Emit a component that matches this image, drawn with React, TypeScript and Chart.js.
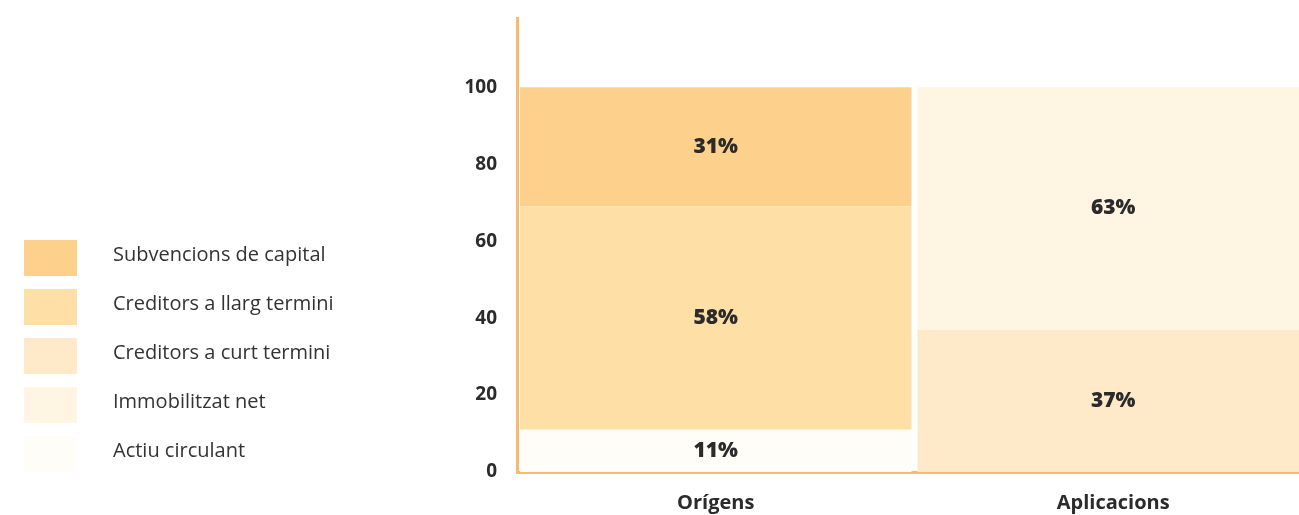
import React, { useEffect, useRef } from "react";
import { Chart, registerables } from "chart.js";

Chart.register(...registerables);

const categories = ["Orígens", "Aplicacions"];
const yTicks = [0, 20, 40, 60, 80, 100];

// Series values (%), per category [Orígens, Aplicacions]
const actiuCirculant = [11, 0];
const creditorsCurt = [0, 37];
const creditorsLlarg = [58, 0];
const immobilitzatNet = [0, 63];
const subvencionsCapital = [31, 0];

const seriesNames = {
  subvencions: "Subvencions de capital",
  llarg: "Creditors a llarg termini",
  curt: "Creditors a curt termini",
  immob: "Immobilitzat net",
  actiu: "Actiu circulant",
};

const colors = {
  subvencions: "#FDD18C",
  llarg: "#FEDFA6",
  curt: "#FEEAC8",
  immob: "#FFF5E2",
  actiu: "#FFFDF7",
};

const legendOrder = ["subvencions", "llarg", "curt", "immob", "actiu"] as const;

const AXIS_COLOR = "#F8BA6C";
const TEXT_COLOR = "#2b2b2b";
const FONT = "'Open Sans', 'Noto Sans', sans-serif";

const labelsPlugin = {
  id: "segmentLabels",
  afterDatasetsDraw(chart: any) {
    const ctx = chart.ctx;
    ctx.save();
    ctx.font = `800 21px ${FONT}`;
    ctx.fillStyle = TEXT_COLOR;
    ctx.textAlign = "center";
    ctx.textBaseline = "middle";
    chart.data.datasets.forEach((ds: any, di: number) => {
      const meta = chart.getDatasetMeta(di);
      meta.data.forEach((el: any, i: number) => {
        const v = ds.data[i];
        if (!v) return;
        const p = el.getProps(["x", "y", "base"], true);
        ctx.fillText(`${v}%`, p.x, (p.y + p.base) / 2);
      });
    });
    ctx.restore();
  },
};

export default function App() {
  const canvasRef = useRef<HTMLCanvasElement | null>(null);

  useEffect(() => {
    document.body.style.margin = "0";
    const canvas = canvasRef.current;
    if (!canvas) return;
    const common = { barPercentage: 0.985, categoryPercentage: 1, borderWidth: 0 };
    const chart = new Chart(canvas, {
      type: "bar",
      data: {
        labels: categories,
        datasets: [
          { label: seriesNames.actiu, data: actiuCirculant, backgroundColor: colors.actiu, ...common },
          { label: seriesNames.curt, data: creditorsCurt, backgroundColor: colors.curt, ...common },
          { label: seriesNames.llarg, data: creditorsLlarg, backgroundColor: colors.llarg, ...common },
          { label: seriesNames.immob, data: immobilitzatNet, backgroundColor: colors.immob, ...common },
          { label: seriesNames.subvencions, data: subvencionsCapital, backgroundColor: colors.subvencions, ...common },
        ],
      },
      options: {
        responsive: false,
        animation: false,
        layout: { padding: { top: 18, left: 0, right: 0, bottom: 0 } },
        plugins: { legend: { display: false }, tooltip: { enabled: false } },
        scales: {
          x: {
            stacked: true,
            z: 1,
            grid: { display: false, drawTicks: false },
            border: { display: true, color: AXIS_COLOR, width: 3 },
            ticks: { color: TEXT_COLOR, font: { family: FONT, size: 20, weight: "bold" }, padding: 19 },
            afterFit: (s: any) => {
              s.height = 43;
              s.paddingLeft = 0;
              s.paddingRight = 0;
            },
          },
          y: {
            stacked: true,
            z: 1,
            min: 0,
            max: 118,
            grid: { display: false, drawTicks: false },
            border: { display: true, color: AXIS_COLOR, width: 3 },
            ticks: { stepSize: 20, color: TEXT_COLOR, font: { family: FONT, size: 19, weight: "bold" }, padding: 20 },
            afterBuildTicks: (s: any) => {
              s.ticks = yTicks.map((v) => ({ value: v }));
            },
            afterFit: (s: any) => {
              s.width = 517;
              s.paddingTop = 0;
              s.paddingBottom = 0;
            },
          },
        },
      } as any,
      plugins: [labelsPlugin],
    });
    return () => chart.destroy();
  }, []);

  return (
    <div style={{ position: "relative", width: 1299, height: 515, overflow: "hidden", fontFamily: FONT }}>
      <canvas ref={canvasRef} width={1312} height={515} style={{ position: "absolute", left: 0, top: 0, width: 1312, height: 515 }} />
      <div style={{ position: "absolute", left: 24, top: 240 }}>
        {legendOrder.map((k, i) => (
          <div key={k} style={{ position: "absolute", top: i * 49, left: 0, height: 36, display: "flex", alignItems: "center", whiteSpace: "nowrap" }}>
            <div style={{ width: 53, height: 36, background: colors[k] }} />
            <span style={{ marginLeft: 36, fontSize: 20, color: "#333", position: "relative", top: -5 }}>{seriesNames[k]}</span>
          </div>
        ))}
      </div>
    </div>
  );
}
